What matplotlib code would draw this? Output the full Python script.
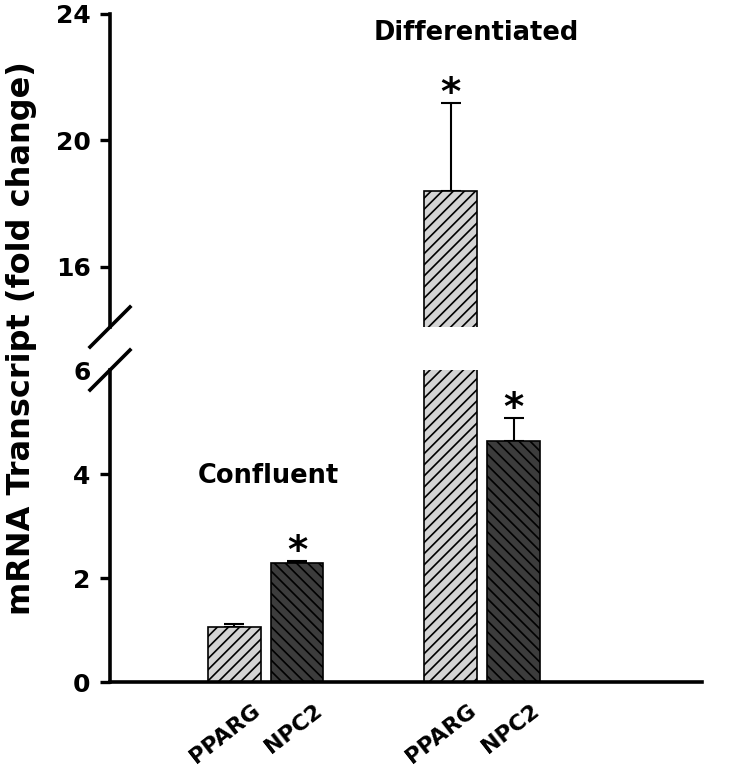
import numpy as np
import matplotlib.pyplot as plt
from matplotlib.transforms import ScaledTranslation

plt.rcParams['font.family'] = ['DejaVu Sans']
plt.rcParams['font.weight'] = 'bold'
plt.rcParams['hatch.linewidth'] = 1.2

# data
groups = ['Confluent', 'Differentiated']
genes = ['PPARG', 'NPC2']
pparg_mean = [1.06, 18.41]
pparg_err = [0.05, 2.78]
npc2_mean = [2.29, 4.63]
npc2_err = [0.04, 0.45]
significant_pparg = [False, True]
significant_npc2 = [True, True]

group_pos = np.array([0.5, 3.94])
offset = 0.5
width = 0.84

fig = plt.figure(figsize=(7.5, 7.77), dpi=100)
left, right = 110 / 750, 702 / 750
ax_lo = fig.add_axes([left, 1 - 682 / 777, right - left, (682 - 370) / 777])
ax_hi = fig.add_axes([left, 1 - 327 / 777, right - left, (327 - 14) / 777])

lw_spine = 2.6


def draw_bars(ax):
    x1 = group_pos - offset
    x2 = group_pos + offset
    ax.bar(x1, pparg_mean, width, color='#d4d4d4', edgecolor='black',
           hatch='///', linewidth=1.2, zorder=2)
    ax.bar(x2, npc2_mean, width, color='#3c3c3c', edgecolor='black',
           hatch='\\\\\\', linewidth=1.2, zorder=2)
    for x, m, e in [(x1, pparg_mean, pparg_err), (x2, npc2_mean, npc2_err)]:
        ax.errorbar(x, m, yerr=[np.zeros(len(m)), e], fmt='none', ecolor='black',
                    elinewidth=1.5, capsize=7, capthick=1.5, zorder=1)
    return x1, x2


x1, x2 = draw_bars(ax_lo)
draw_bars(ax_hi)

ax_lo.set_ylim(0, 6)
ax_hi.set_ylim(14.1, 24)
for ax in (ax_lo, ax_hi):
    ax.set_xlim(-1.97, 7.43)
    for s in ['top', 'right']:
        ax.spines[s].set_visible(False)
    ax.spines['left'].set_linewidth(lw_spine)
    ax.spines['bottom'].set_linewidth(lw_spine)
    ax.tick_params(axis='y', direction='out', length=7, width=2.4,
                   labelsize=18, pad=7)
    for lab in ax.get_yticklabels():
        lab.set_fontweight('bold')

ax_hi.spines['bottom'].set_visible(False)
ax_hi.set_xticks([])
ax_hi.set_yticks([16, 20, 24])
ax_lo.set_yticks([0, 2, 4, 6])
ax_lo.yaxis.get_major_ticks()[-1].tick1line.set_visible(False)

ax_lo.set_xticks(np.concatenate([x1, x2]))
ax_lo.set_xticklabels([genes[0]] * 2 + [genes[1]] * 2, rotation=38,
                      ha='right', va='top', rotation_mode='anchor', fontsize=16,
                      fontweight='bold')
ax_lo.tick_params(axis='x', length=0, pad=13)
shift = ScaledTranslation(0.17, 0, fig.dpi_scale_trans)
for lab in ax_lo.get_xticklabels():
    lab.set_transform(lab.get_transform() + shift)

# asterisks
for ax, x, m, e, sig in [(ax_lo, x1[0], pparg_mean[0], pparg_err[0], significant_pparg[0]),
                          (ax_lo, x2[0], npc2_mean[0], npc2_err[0], significant_npc2[0]),
                          (ax_hi, x1[1], pparg_mean[1], pparg_err[1], significant_pparg[1]),
                          (ax_lo, x2[1], npc2_mean[1], npc2_err[1], significant_npc2[1])]:
    if sig:
        ax.annotate('*', xy=(x, m + e), xytext=(0, -7), textcoords='offset points',
                    ha='center', va='bottom', fontsize=28, fontweight='bold')

# group labels
ax_lo.text(group_pos[0] + 0.05, 3.96, groups[0], ha='center', va='center',
           fontsize=18.5, fontweight='bold')
ax_hi.text(group_pos[1] - 0.1, 23.4, groups[1], ha='center', va='center',
           fontsize=18.5, fontweight='bold')

# break marks
dx = 20 / 592
kw = dict(color='black', lw=2.6, clip_on=False)
ax_hi.plot([-dx, dx], [-20 / 313, 20 / 313], transform=ax_hi.transAxes, **kw)
ax_lo.plot([-dx, dx], [1 - 20 / 312, 1 + 20 / 312], transform=ax_lo.transAxes, **kw)

fig.text(0.029, 1 - 338 / 777, 'mRNA Transcript (fold change)',
         rotation=90, ha='center', va='center', fontsize=23, fontweight='bold')

fig.savefig('out.png', dpi=100)
